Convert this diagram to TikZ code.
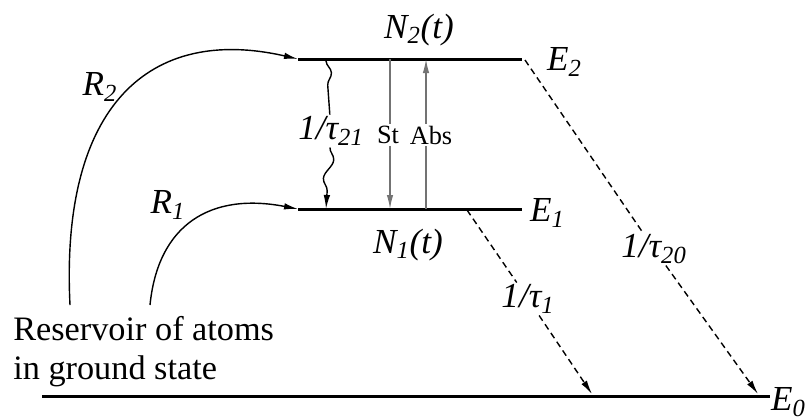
\documentclass[tikz,border=0pt]{standalone}
\usepackage{fontspec}
\setmainfont{Liberation Serif}
\usetikzlibrary{arrows.meta,decorations.pathmorphing}

\begin{document}
\begin{tikzpicture}[
   x=0.02cm, y=-0.02cm,
   level/.style={line width=1.7pt},
   arrow/.style={-{Latex[length=2.8mm,width=1.3mm]}, line width=0.8pt},
   decay/.style={arrow, dash pattern=on 3.6pt off 2.4pt},
   trans/.style={line width=0.9pt, draw=black!55},
   wavy/.style={decorate, line width=0.8pt,
      decoration={snake, amplitude=2.6pt, segment length=22pt, post length=7pt}},
   lab/.style={font=\fontsize{20}{24}\selectfont\itshape, inner sep=1pt},
   small/.style={font=\fontsize{15}{18}\selectfont, inner sep=1pt},
   txt/.style={font=\fontsize{19.5}{22.2}\selectfont, align=left, inner sep=0pt}
]
\useasboundingbox (0,0) rectangle (807,417);

% energy levels
\coordinate (e2l) at (298,59);
\coordinate (e2r) at (522,59);
\coordinate (e1l) at (298,209);
\coordinate (e1r) at (522,209);
\coordinate (e0l) at (42,396);
\coordinate (e0r) at (770,396);
\draw[level] (e2l) -- (e2r);
\draw[level] (e1l) -- (e1r);
\draw[level] (e0l) -- (e0r);

\node[lab] (n2) at (419,30) {N\textsubscript{2}(t)};
\node[lab] (n1) at (408,245) {N\textsubscript{1}(t)};
\node[lab, anchor=west] (le2) at (545,62) {E\textsubscript{2}};
\node[lab, anchor=west] (le1) at (528,213) {E\textsubscript{1}};
\node[lab, anchor=west] (le0) at (769,402) {E\textsubscript{0}};

% reservoir and pumping
\node[txt, anchor=north west] (res) at (13,316)
   {Reservoir of atoms\\in ground state};
\coordinate (p2) at (70,305);
\coordinate (p1) at (150,305);
\node[lab] (r2) at (100,87) {R\textsubscript{2}};
\node[lab] (r1) at (168,205) {R\textsubscript{1}};
\draw[arrow] (p2) .. controls (60,105) and (150,25) .. (e2l);
\draw[arrow] (p1) .. controls (158,225) and (210,192) .. (e1l);

% transitions between 2 and 1
\node[lab] (tau21) at (331,131) {1/τ\textsubscript{21}};
\coordinate (w2) at (326,61);
\coordinate (w1) at (326,209);
\draw[wavy] (w2) -- (tau21);
\draw[wavy, arrow] (tau21) -- (w1);

\node[small] (st) at (388,135) {St};
\node[small] (abs) at (431,135) {Abs};
\coordinate (s2) at (390,59);
\coordinate (s1) at (390,209);
\coordinate (a2) at (426,59);
\coordinate (a1) at (426,209);
\draw[trans] (s2) -- (s2 |- st.north);
\draw[trans, arrow, draw=black!55] (s1 |- st.south) -- (s1);
\draw[trans] (a1) -- (a1 |- abs.south);
\draw[trans, arrow, draw=black!55] (a2 |- abs.north) -- (a2);

% decay to ground state
\coordinate (d1) at (467,210);
\coordinate (d0) at (592,394);
\coordinate (f2) at (525,60);
\coordinate (f0) at (758,394);
\node[lab] (tau1) at (528,299) {1/τ\textsubscript{1}};
\node[lab] (tau20) at (654,249) {1/τ\textsubscript{20}};
\draw[decay, -] (d1) -- (tau1);
\draw[decay] (tau1) -- (d0);
\draw[decay, -] (f2) -- (tau20);
\draw[decay] (tau20) -- (f0);
\end{tikzpicture}
\end{document}
